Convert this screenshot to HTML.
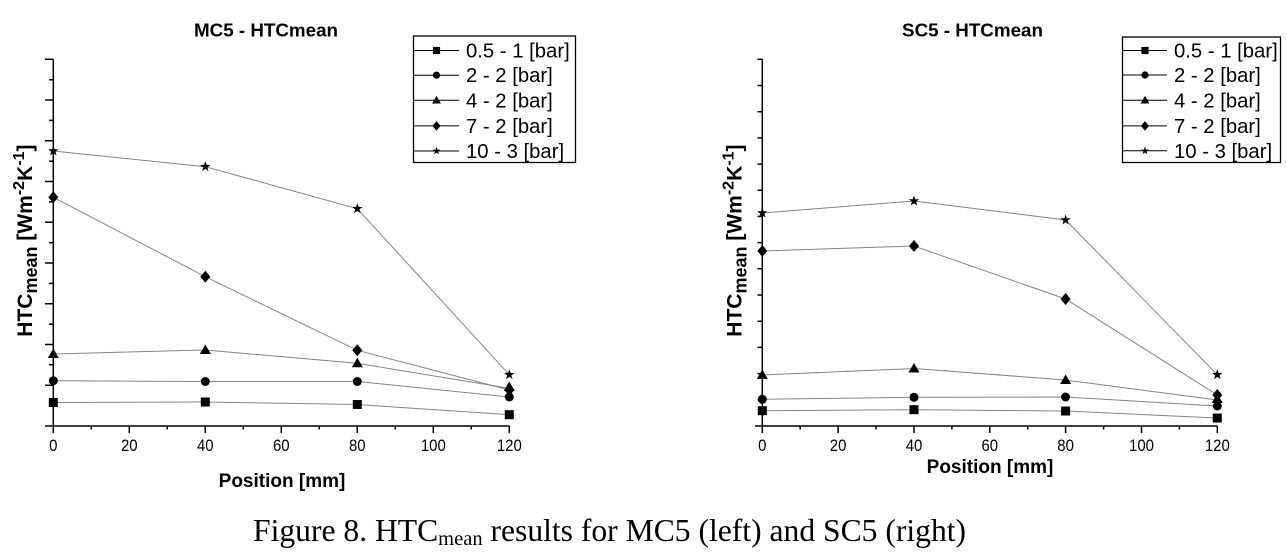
<!DOCTYPE html>
<html><head><meta charset="utf-8"><style>
html,body{margin:0;padding:0;background:#fff;}
svg{display:block;}
</style></head><body>
<svg width="1287" height="554" viewBox="0 0 1287 554" xmlns="http://www.w3.org/2000/svg" font-family="Liberation Sans, Arial, sans-serif">
<defs>
<path id="sq" d="M-4.5,-4.5h9v9h-9z"/>
<circle id="ci" r="4.5"/>
<path id="tr" d="M0,-5.5L5.5,4L-5.5,4Z"/>
<path id="di" d="M0,-6L5,0L0,6L-5,0Z"/>
<path id="st" d="M0,-5.5 L1.29,-1.78 L5.23,-1.70 L2.09,0.68 L3.23,4.45 L0,2.2 L-3.23,4.45 L-2.09,0.68 L-5.23,-1.70 L-1.29,-1.78 Z"/>
</defs>
<rect width="1287" height="554" fill="#fff"/>

<!-- ================= LEFT CHART ================= -->
<text x="266" y="36.5" font-size="18.8" font-weight="bold" text-anchor="middle">MC5 - HTCmean</text>

<g stroke="#000" stroke-width="1.5" fill="none">
<line x1="53.3" y1="59.3" x2="53.3" y2="426"/>
<line x1="45" y1="426" x2="509.3" y2="426"/>
<path d="M45,59.3H53.3M45,100H53.3M45,140.8H53.3M45,181.5H53.3M45,222.3H53.3M45,263H53.3M45,303.7H53.3M45,344.5H53.3M45,385.2H53.3"/>
<path d="M49,79.7H53.3M49,120.4H53.3M49,161.1H53.3M49,201.9H53.3M49,242.6H53.3M49,283.4H53.3M49,324.1H53.3M49,364.8H53.3M49,405.6H53.3"/>
<path d="M53.3,426V433M129.3,426V433M205.3,426V433M281.3,426V433M357.3,426V433M433.3,426V433M509.3,426V433"/>
<path d="M91.3,426V429.5M167.3,426V429.5M243.3,426V429.5M319.3,426V429.5M395.3,426V429.5M471.3,426V429.5"/>
</g>
<g font-size="17" text-anchor="middle">
<text transform="translate(53.3,451) scale(0.88,1)">0</text>
<text transform="translate(129.3,451) scale(0.88,1)">20</text>
<text transform="translate(205.3,451) scale(0.88,1)">40</text>
<text transform="translate(281.3,451) scale(0.88,1)">60</text>
<text transform="translate(357.3,451) scale(0.88,1)">80</text>
<text transform="translate(433.3,451) scale(0.88,1)">100</text>
<text transform="translate(509.3,451) scale(0.88,1)">120</text>
</g>
<text x="282" y="487" font-size="19" font-weight="bold" text-anchor="middle">Position [mm]</text>
<text transform="translate(32,336.7) rotate(-90)" font-size="21" font-weight="bold">HTC<tspan font-size="18" dy="5">mean</tspan><tspan dy="-5" font-size="21"> [Wm</tspan><tspan font-size="16" dy="-8">-2</tspan><tspan dy="8" font-size="21">K</tspan><tspan font-size="16" dy="-8">-1</tspan><tspan dy="8" font-size="21">]</tspan></text>

<g stroke="#858585" stroke-width="1" fill="none">
<polyline points="53.3,151 205.3,166.7 357.3,208.7 509.3,374.7"/>
<polyline points="53.3,197.3 205.3,276.7 357.3,350.3 509.3,390"/>
<polyline points="53.3,354 205.3,350 357.3,363.3 509.3,388.3"/>
<polyline points="53.3,380.7 205.3,381.5 357.3,381.5 509.3,397"/>
<polyline points="53.3,402.5 205.3,402 357.3,404.5 509.3,414.7"/>
</g>
<g fill="#000">
<use href="#st" x="53.3" y="151"/><use href="#st" x="205.3" y="166.7"/><use href="#st" x="357.3" y="208.7"/><use href="#st" x="509.3" y="374.7"/>
<use href="#di" x="53.3" y="197.3"/><use href="#di" x="205.3" y="276.7"/><use href="#di" x="357.3" y="350.3"/><use href="#di" x="509.3" y="390"/>
<use href="#tr" x="53.3" y="354"/><use href="#tr" x="205.3" y="350"/><use href="#tr" x="357.3" y="363.3"/><use href="#tr" x="509.3" y="387"/>
<use href="#ci" x="53.3" y="380.7"/><use href="#ci" x="205.3" y="381.5"/><use href="#ci" x="357.3" y="381.5"/><use href="#ci" x="509.3" y="397"/>
<use href="#sq" x="53.3" y="402.5"/><use href="#sq" x="205.3" y="402"/><use href="#sq" x="357.3" y="404.5"/><use href="#sq" x="509.3" y="414.7"/>
</g>

<rect x="413.5" y="36" width="162" height="126.5" fill="#fff" stroke="#000" stroke-width="1.3"/>
<g stroke="#000" stroke-width="1">
<line x1="413.5" y1="50.5" x2="459" y2="50.5"/>
<line x1="413.5" y1="75.2" x2="459" y2="75.2"/>
<line x1="413.5" y1="100.3" x2="459" y2="100.3"/>
<line x1="413.5" y1="125.9" x2="459" y2="125.9"/>
<line x1="413.5" y1="151" x2="459" y2="151"/>
</g>
<g fill="#000">
<use href="#sq" transform="translate(436.5,50.5) scale(0.8)"/>
<use href="#ci" transform="translate(436.5,75.2) scale(0.8)"/>
<use href="#tr" transform="translate(436.5,100.3) scale(0.8)"/>
<use href="#di" transform="translate(436.5,125.9) scale(0.8)"/>
<use href="#st" transform="translate(436.5,151) scale(0.75)"/>
</g>
<g font-size="20.3">
<text x="466" y="57.5">0.5 - 1 [bar]</text>
<text x="466" y="82.2">2 - 2 [bar]</text>
<text x="466" y="107.3">4 - 2 [bar]</text>
<text x="466" y="132.9">7 - 2 [bar]</text>
<text x="466" y="158">10 - 3 [bar]</text>
</g>

<!-- ================= RIGHT CHART ================= -->
<text x="972.5" y="36.5" font-size="18.8" font-weight="bold" text-anchor="middle">SC5 - HTCmean</text>
<g stroke="#000" stroke-width="1.5" fill="none">
<line x1="762.3" y1="59.3" x2="762.3" y2="426"/>
<line x1="755" y1="426" x2="1217.3" y2="426"/>
<path d="M757.5,59.3H762.3M757.5,85.5H762.3M757.5,111.7H762.3M757.5,137.9H762.3M757.5,164.1H762.3M757.5,190.3H762.3M757.5,216.4H762.3M757.5,242.6H762.3M757.5,268.8H762.3M757.5,295H762.3M757.5,321.2H762.3M757.5,347.4H762.3M757.5,373.6H762.3M757.5,399.8H762.3"/>
<path d="M762.3,426V433M838.1,426V433M914,426V433M989.8,426V433M1065.6,426V433M1141.5,426V433M1217.3,426V433"/>
<path d="M800.2,426V429.5M876,426V429.5M951.9,426V429.5M1027.7,426V429.5M1103.6,426V429.5M1179.4,426V429.5"/>
</g>
<g font-size="17" text-anchor="middle">
<text transform="translate(762.3,451) scale(0.88,1)">0</text>
<text transform="translate(838.1,451) scale(0.88,1)">20</text>
<text transform="translate(914,451) scale(0.88,1)">40</text>
<text transform="translate(989.8,451) scale(0.88,1)">60</text>
<text transform="translate(1065.6,451) scale(0.88,1)">80</text>
<text transform="translate(1141.5,451) scale(0.88,1)">100</text>
<text transform="translate(1217.3,451) scale(0.88,1)">120</text>
</g>
<text x="990" y="473" font-size="19" font-weight="bold" text-anchor="middle">Position [mm]</text>
<text transform="translate(741.5,336.7) rotate(-90)" font-size="21" font-weight="bold">HTC<tspan font-size="18" dy="5">mean</tspan><tspan dy="-5" font-size="21"> [Wm</tspan><tspan font-size="16" dy="-8">-2</tspan><tspan dy="8" font-size="21">K</tspan><tspan font-size="16" dy="-8">-1</tspan><tspan dy="8" font-size="21">]</tspan></text>

<g stroke="#858585" stroke-width="1" fill="none">
<polyline points="762.3,213 914,201 1065.6,220 1217.3,374.7"/>
<polyline points="762.3,251 914,246 1065.6,299 1217.3,395"/>
<polyline points="762.3,375 914,368.5 1065.6,380 1217.3,400"/>
<polyline points="762.3,399.3 914,397.3 1065.6,397 1217.3,406"/>
<polyline points="762.3,410.7 914,409.7 1065.6,411 1217.3,418"/>
</g>
<g fill="#000">
<use href="#st" x="762.3" y="213"/><use href="#st" x="914" y="201"/><use href="#st" x="1065.6" y="220"/><use href="#st" x="1217.3" y="374.7"/>
<use href="#di" x="762.3" y="251"/><use href="#di" x="914" y="246"/><use href="#di" x="1065.6" y="299"/><use href="#di" x="1217.3" y="395"/>
<use href="#tr" x="762.3" y="375"/><use href="#tr" x="914" y="368.5"/><use href="#tr" x="1065.6" y="380"/><use href="#tr" x="1217.3" y="399"/>
<use href="#ci" x="762.3" y="399.3"/><use href="#ci" x="914" y="397.3"/><use href="#ci" x="1065.6" y="397"/><use href="#ci" x="1217.3" y="406"/>
<use href="#sq" x="762.3" y="410.7"/><use href="#sq" x="914" y="409.7"/><use href="#sq" x="1065.6" y="411"/><use href="#sq" x="1217.3" y="418"/>
</g>

<rect x="1122.5" y="37" width="158" height="125.5" fill="#fff" stroke="#000" stroke-width="1.3"/>
<g stroke="#000" stroke-width="1">
<line x1="1122.5" y1="50.5" x2="1167" y2="50.5"/>
<line x1="1122.5" y1="75" x2="1167" y2="75"/>
<line x1="1122.5" y1="100.3" x2="1167" y2="100.3"/>
<line x1="1122.5" y1="125.9" x2="1167" y2="125.9"/>
<line x1="1122.5" y1="150.8" x2="1167" y2="150.8"/>
</g>
<g fill="#000">
<use href="#sq" transform="translate(1145,50.5) scale(0.8)"/>
<use href="#ci" transform="translate(1145,75) scale(0.8)"/>
<use href="#tr" transform="translate(1145,100.3) scale(0.8)"/>
<use href="#di" transform="translate(1145,125.9) scale(0.8)"/>
<use href="#st" transform="translate(1145,150.8) scale(0.75)"/>
</g>
<g font-size="20.3">
<text x="1174" y="57.5">0.5 - 1 [bar]</text>
<text x="1174" y="82">2 - 2 [bar]</text>
<text x="1174" y="107.3">4 - 2 [bar]</text>
<text x="1174" y="132.9">7 - 2 [bar]</text>
<text x="1174" y="157.8">10 - 3 [bar]</text>
</g>

<!-- caption -->
<text x="253" y="541" font-family="Liberation Serif, Times New Roman, serif" font-size="31.6">Figure 8. HTC<tspan font-size="20.5" dy="4">mean</tspan><tspan dy="-4" font-size="31.6"> results for MC5 (left) and SC5 (right)</tspan></text>
</svg>
</body></html>
